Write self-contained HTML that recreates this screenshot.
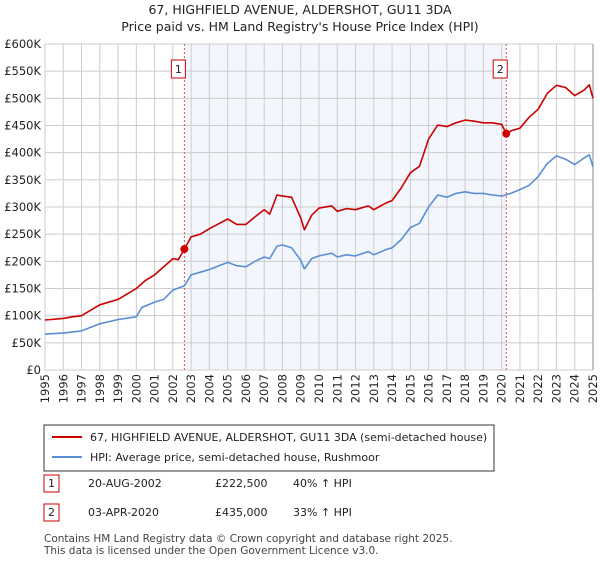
<!DOCTYPE html>
<html><head><meta charset="utf-8"><style>
body{margin:0;background:#fff;font-family:"Liberation Sans","DejaVu Sans",sans-serif;}
</style></head><body>
<svg width="600" height="560" xmlns="http://www.w3.org/2000/svg" font-family="DejaVu Sans, Liberation Sans, sans-serif">
<text x="300" y="14" text-anchor="middle" font-size="12.5" fill="#222">67, HIGHFIELD AVENUE, ALDERSHOT, GU11 3DA</text>
<text x="300" y="31" text-anchor="middle" font-size="12.5" fill="#222">Price paid vs. HM Land Registry's House Price Index (HPI)</text>
<g id="plot"></g>
<g>
<rect x="44" y="425" width="450" height="46" fill="#fff" stroke="#333" stroke-width="1"/>
<line x1="52" y1="437" x2="82" y2="437" stroke="#cc0000" stroke-width="2"/>
<text x="90" y="441" font-size="11" fill="#222">67, HIGHFIELD AVENUE, ALDERSHOT, GU11 3DA (semi-detached house)</text>
<line x1="52" y1="457" x2="82" y2="457" stroke="#5b8fd4" stroke-width="2"/>
<text x="90" y="461" font-size="11" fill="#222">HPI: Average price, semi-detached house, Rushmoor</text>
</g>
<g font-size="11" fill="#222">
<rect x="44" y="475" width="15" height="17" fill="#fff" stroke="#cc0000"/>
<text x="51.5" y="487" text-anchor="middle">1</text>
<text x="88" y="487">20-AUG-2002</text><text x="215" y="487">£222,500</text><text x="293" y="487">40% ↑ HPI</text>
<rect x="44" y="504" width="15" height="17" fill="#fff" stroke="#cc0000"/>
<text x="51.5" y="516" text-anchor="middle">2</text>
<text x="88" y="516">03-APR-2020</text><text x="215" y="516">£435,000</text><text x="293" y="516">33% ↑ HPI</text>
</g>
<text x="44" y="542" font-size="10.5" fill="#444">Contains HM Land Registry data © Crown copyright and database right 2025.</text>
<text x="44" y="554" font-size="10.5" fill="#444">This data is licensed under the Open Government Licence v3.0.</text>
</svg>
<script>
const hpiYears=[1995,1996,1997,1998,1999,2000,2000.3,2001,2001.5,2002,2002.63,2003,2003.5,2004,2005,2005.5,2006,2006.5,2007,2007.3,2007.7,2008,2008.5,2009,2009.2,2009.6,2010,2010.7,2011,2011.5,2012,2012.7,2013,2013.7,2014,2014.5,2015,2015.5,2016,2016.5,2017,2017.5,2018,2018.5,2019,2019.5,2020,2020.5,2021,2021.5,2022,2022.5,2023,2023.5,2024,2024.5,2024.8,2025];
const hpiValues=[66,68,72,85,93,98,115,125,130,147,155,175,180,185,198,192,190,200,208,205,228,230,225,202,186,205,210,215,208,212,210,218,212,222,225,240,262,270,300,322,318,325,328,325,325,322,320,325,332,340,356,380,394,388,378,390,396,374];
const priceYears=[1995,1996,1996.5,1997,1998,1999,2000,2000.5,2001,2002,2002.3,2002.63,2003,2003.5,2004,2005,2005.5,2006,2006.5,2007,2007.3,2007.7,2008,2008.5,2009,2009.2,2009.6,2010,2010.7,2011,2011.5,2012,2012.7,2013,2013.7,2014,2014.5,2015,2015.5,2016,2016.5,2017,2017.5,2018,2018.5,2019,2019.5,2020,2020.25,2020.5,2021,2021.5,2022,2022.5,2023,2023.5,2024,2024.5,2024.8,2025];
const priceValues=[92,95,98,100,120,130,150,165,175,205,203,222.5,245,250,260,278,268,268,282,295,287,322,320,318,280,258,285,298,302,292,297,295,302,295,308,312,335,363,375,425,451,448,455,460,458,455,455,452,435,440,445,465,480,509,524,520,505,515,525,500];
const saleYears=[2002.63,2020.25];
const saleValues=[222.5,435];
const saleLabels=["1","2"];
const yTicks=[0,50,100,150,200,250,300,350,400,450,500,550,600];
const yTickLabels=["£0","£50K","£100K","£150K","£200K","£250K","£300K","£350K","£400K","£450K","£500K","£550K","£600K"];
const xTicks=[1995,1996,1997,1998,1999,2000,2001,2002,2003,2004,2005,2006,2007,2008,2009,2010,2011,2012,2013,2014,2015,2016,2017,2018,2019,2020,2021,2022,2023,2024,2025];

const NS="http://www.w3.org/2000/svg";
const L=45,R=593,T=44,B=370;
const xs=v=>L+(v-1995)/30*(R-L);
const ys=v=>B-v/600*(B-T);
const g=document.getElementById('plot');
function mk(tag,attrs){const e=document.createElementNS(NS,tag);for(const k in attrs)e.setAttribute(k,attrs[k]);g.appendChild(e);return e;}
let sh=mk('rect',{x:xs(saleYears[0]),y:T,width:xs(saleYears[1])-xs(saleYears[0]),height:B-T,fill:'#eef3fc',opacity:0.7});


yTicks.forEach((v,i)=>{
 let l=mk('line',{x1:L,x2:R,y1:ys(v),y2:ys(v),stroke:'#cccccc','stroke-width':1});
 
 
 let t=mk('text',{x:L-4,y:ys(v)+4,'text-anchor':'end','font-size':11.5,fill:'#222'});
 t.textContent=yTickLabels[i];
 
 
});
xTicks.forEach(v=>{
 let l=mk('line',{x1:xs(v),x2:xs(v),y1:T,y2:B,stroke:'#cccccc','stroke-width':1});
 
 
 let t=mk('text',{x:0,y:0,'text-anchor':'end','font-size':11.5,fill:'#222',transform:`translate(${xs(v)+4},374) rotate(-90)`});
 t.textContent=v;
 
 
});
mk('line',{x1:R,x2:R,y1:T,y2:B,stroke:'#888','stroke-width':1});
saleYears.forEach((v,i)=>{
 let l=mk('line',{x1:xs(v),x2:xs(v),y1:T,y2:B,stroke:'#e05050','stroke-width':1,'stroke-dasharray':'2,2'});
 
 
 let r=mk('rect',{x:xs(v)-13,y:60,width:14,height:18,fill:'#fff',stroke:'#cc0000'});
 
 
 let t=mk('text',{x:xs(v)-6,y:73,'text-anchor':'middle','font-size':11,fill:'#222'});
 t.textContent=saleLabels[i];
 
 
});
function line(xa,va,color,name){
 let d=xa.map((x,i)=>(i?'L':'M')+xs(x).toFixed(1)+','+ys(va[i]).toFixed(1)).join('');
 let p=mk('path',{d:d,fill:'none',stroke:color,'stroke-width':1.6,'stroke-linejoin':'round'});
 
 
}
line(hpiYears,hpiValues,'#5b8fd4','hpi-line');
line(priceYears,priceValues,'#cc0000','property-price-line');
saleYears.forEach((v,i)=>{
 let c=mk('circle',{cx:xs(v),cy:ys(saleValues[i]),r:4,fill:'#cc0000'});
 
 
});
</script>
</body></html>
